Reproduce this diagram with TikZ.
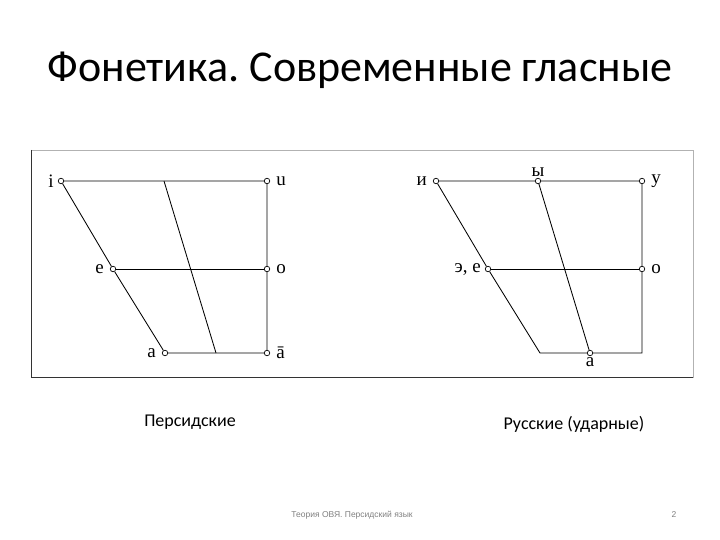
\documentclass[tikz,border=0pt]{standalone}
\usepackage{fontspec}
\setmainfont{Carlito}
\newfontfamily\vowelfont{Liberation Serif}
\newfontfamily\footfont{Liberation Sans}
\usetikzlibrary{positioning}
\frenchspacing
\tikzset{
        vowel/.style = {draw, circle, fill=white, inner sep=0pt,
            minimum size=5.5pt, line width=0.7pt},
        lbl/.style = {font=\vowelfont\fontsize{19}{19}\selectfont, inner sep=1pt},
        grid/.style = {draw, line width=0.85pt},
        caption/.style = {font=\fontsize{18}{20}\selectfont},
        footer/.style = {font=\footfont\fontsize{8.5}{9}\selectfont, text=gray},
    }

\begin{document}
\begin{tikzpicture}[x=1pt,y=-1pt]
    \useasboundingbox (0,0) rectangle (720,540);
    \node[font=\fontsize{44}{48}\selectfont] (title) at (360,70) {Фонетика. Современные гласные};

    % picture frame
    \draw[gray!60, line width=0.8pt] (31,150) rectangle (693,377);
    \draw[black!80, line width=1pt] (31,150) -- (31,377) -- (693,377);

    % Persian vowels
    \node[vowel] (i) at (61,181) {};
    \node[vowel] (u) at (267,181) {};
    \node[vowel] (e) at (113,269) {};
    \node[vowel] (o) at (267,269) {};
    \node[vowel] (a) at (165,353) {};
    \node[vowel] (aa) at (267,353) {};
    \coordinate (mtop) at (164,181);
    \coordinate (mbot) at (216,353);

    \node[lbl, left=3pt of i] (i_t) {i};
    \node[lbl, right=5pt of u] (u_t) {u};
    \node[lbl, left=5pt of e] (e_t) {e};
    \node[lbl, right=5pt of o] (o_t) {o};
    \node[lbl, left=5pt of a] (a_t) {a};
    \node[lbl, right=5pt of aa] (aa_t) {ā};

    \draw[grid] (i) -- (u) -- (o) -- (aa) -- (a) -- (e) -- (i);
    \draw[grid] (e) -- (o);
    \draw[grid] (mtop) -- (mbot);

    % Russian vowels
    \node[vowel] (ri) at (436,181) {};
    \node[vowel] (ry) at (538,181) {};
    \node[vowel] (ru) at (642,181) {};
    \node[vowel] (re) at (488,269) {};
    \node[vowel] (ro) at (642,269) {};
    \node[vowel] (ra) at (590,353) {};
    \coordinate (rbl) at (540,353);
    \coordinate (rbr) at (642,353);

    \node[lbl, left=5pt of ri] (ri_t) {и};
    \node[lbl, above=0pt of ry] (ry_t) {ы};
    \node[lbl, right=5pt of ru] (ru_t) {у};
    \node[lbl, left=3pt of re] (re_t) {э, е};
    \node[lbl, right=5pt of ro] (ro_t) {о};
    \node[lbl, below=0pt of ra] (ra_t) {а};

    \draw[grid] (ri) -- (ry) -- (ru) -- (ro) -- (rbr) -- (ra) -- (rbl) -- (re) -- (ri);
    \draw[grid] (re) -- (ro);
    \draw[grid] (ry) -- (ra);

    % captions
    \node[caption] (fa) at (190,422) {Персидские};
    \node[caption] (rus) at (574,424) {Русские (ударные)};

    % footer
    \node[footer] (foot) at (352,515) {Теория ОВЯ. Персидский язык};
    \node[footer] (page) at (674,515) {2};
\end{tikzpicture}
\end{document}
